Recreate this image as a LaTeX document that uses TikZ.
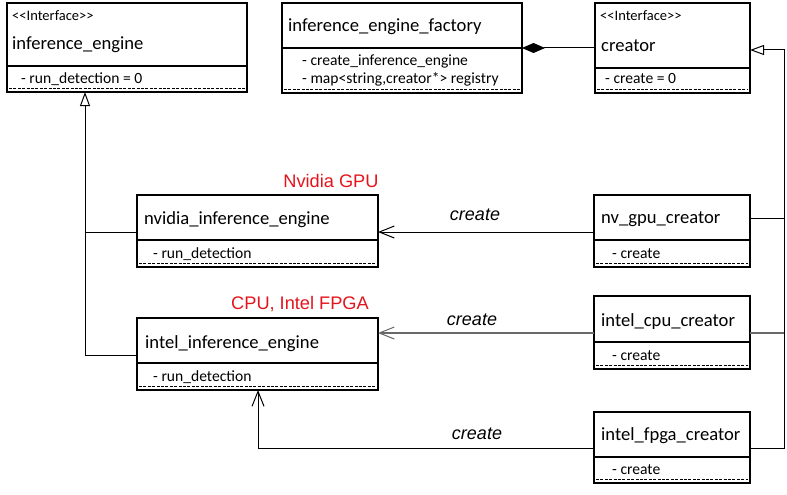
\documentclass[tikz,border=0pt]{standalone}
\usepackage{fontspec}
\setmainfont{Carlito}
\newfontfamily\arialf{Liberation Sans}
\usetikzlibrary{arrows.meta,calc}
\definecolor{labelred}{RGB}{228,20,28}
\definecolor{linegray}{RGB}{105,105,105}
\tikzset{
  classbox/.style={draw=black, line width=2pt, fill=white, inner sep=0pt, outer sep=0pt},
  boxline/.style={draw=black, line width=2pt},
  dashline/.style={draw=black, line width=1.8pt, dash pattern=on 3pt off 1.4pt},
  ttl/.style={anchor=base west, inner sep=0pt, font=\fontsize{18.6}{20}\selectfont},
  mem/.style={anchor=base west, inner sep=0pt, font=\fontsize{15.6}{17}\selectfont},
  ster/.style={anchor=base west, inner sep=0pt, font=\fontsize{14.5}{16}\selectfont},
  lbl/.style={anchor=base, inner sep=0pt, font=\arialf\itshape\fontsize{18}{20}\selectfont},
  plat/.style={anchor=base, inner sep=0pt, text=labelred, font=\arialf\fontsize{18.2}{20}\selectfont},
  conn/.style={draw=black, line width=1pt},
  conngray/.style={draw=linegray, line width=1.2pt},
  inh/.style={-{Triangle[open, length=14pt, width=10pt, line width=1pt, fill=white]}},
  dep/.style={-{Straight Barb[length=15pt, width=12pt, line width=1pt]}},
  comp/.style={{Diamond[length=23pt, width=10pt]}-},
}
\newcommand{\umlbox}[6]{%
  \node[classbox, minimum width={(#4-#2)*1pt}, minimum height={(#5-#3)*1pt}] (#1) at ({(#2+#4)/2},{(#3+#5)/2}) {};
  \draw[boxline] (#2,#6) -- (#4,#6);
  \draw[dashline] ({#2+2},{#5-3.5}) -- ({#4-2},{#5-3.5});
}
\begin{document}
\begin{tikzpicture}[x=1pt, y=-1pt]
\useasboundingbox (0,0) rectangle (787,495);
\fill[white] (0,0) rectangle (787,495);

\coordinate (j1) at (85,232);
\coordinate (j2) at (85,355);
\coordinate (c1) at (500,232);
\coordinate (c2) at (500,333);
\coordinate (c3) at (258,448);
\coordinate (r0) at (784,50);
\coordinate (r1) at (784,218);
\coordinate (r2) at (784,333);
\coordinate (r3) at (784,448);
\coordinate (k) at (560,48);

% class boxes
\umlbox{ie}{7}{3}{247}{92}{66}
\umlbox{fa}{282}{3}{522}{93}{48}
\umlbox{cr}{595}{3}{750}{93}{68}
\umlbox{nv}{137}{195}{378}{267}{240}
\umlbox{in}{137}{318}{378}{390}{363}
\umlbox{ng}{594}{195}{750}{267}{240}
\umlbox{ic}{594}{296}{750}{369}{342}
\umlbox{fp}{594}{412}{750}{483}{457}

% texts
\node[ster] (ies) at (12,21) {<\kern0pt<Interface>\kern0pt>};
\node[ttl] (iet) at (12,50) {inference\_engine};
\node[mem] (iem) at (21,83) {- run\_detection = 0};

\node[ttl] (fat) at (288,32) {inference\_engine\_factory};
\node[mem] (fam1) at (302,66) {- create\_inference\_engine};
\node[mem] (fam2) at (302,84) {- map<string,creator*> registry};

\node[ster] (crs) at (600,21) {<\kern0pt<Interface>\kern0pt>};
\node[ttl] (crt) at (601,52) {creator};
\node[mem] (crm) at (605,83) {- create = 0};

\node[ttl] (nvt) at (144,224) {nvidia\_inference\_engine};
\node[mem] (nvm) at (153,258) {- run\_detection};

\node[ttl] (int) at (145,348) {intel\_inference\_engine};
\node[mem] (inm) at (153,381) {- run\_detection};

\node[ttl] (ngt) at (601,223) {nv\_gpu\_creator};
\node[mem] (ngm) at (612,258) {- create};

\node[ttl] (ict) at (601,326) {intel\_cpu\_creator};
\node[mem] (icm) at (612,360) {- create};

\node[ttl] (fpt) at (601,440) {intel\_fpga\_creator};
\node[mem] (fpm) at (612,474) {- create};

% platform labels
\node[plat] (p1) at (331,187) {Nvidia GPU};
\node[plat] (p2) at (300,309) {CPU, Intel FPGA};

% connectors
\draw[conn, inh] (j2 -| in.west) -- (j2) -- (j2 |- ie.south);
\draw[conn] (j1 -| nv.west) -- (j1);

\draw[conn, dep] (c1 -| ng.west) -- (c1 -| nv.east);
\draw[conngray, dep] (c2 -| ic.west) -- (c2 -| in.east);
\draw[conn, dep] (c3 -| fp.west) -- (c3) -- (c3 |- in.south);

\draw[conn, inh] (r3 -| fp.east) -- (r3) -- (r0) -- (r0 -| cr.east);
\draw[conn] (r1 -| ng.east) -- (r1);
\draw[conngray] (r2 -| ic.east) -- (r2);

\draw[conn, comp] (k -| fa.east) -- (k -| cr.west);

\node[lbl] (l1) at (475,220) {create};
\node[lbl] (l2) at (472,325) {create};
\node[lbl] (l3) at (477,439) {create};
\end{tikzpicture}
\end{document}
